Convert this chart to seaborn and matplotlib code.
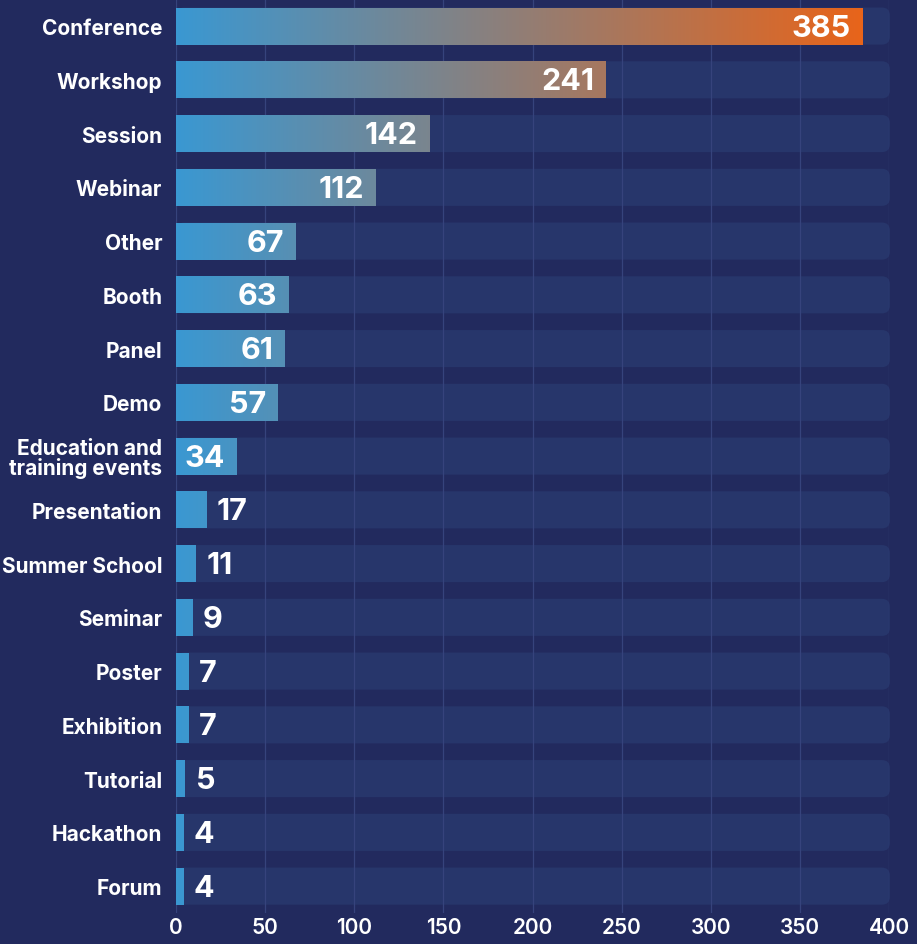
import numpy as np
import pandas as pd
import matplotlib
matplotlib.use("Agg")
import matplotlib.pyplot as plt
import seaborn as sns
from matplotlib.colors import LinearSegmentedColormap
from matplotlib.patches import FancyBboxPatch

# Event types and how many of each were recorded
categories = [
    "Conference", "Workshop", "Session", "Webinar", "Other", "Booth", "Panel",
    "Demo", "Education and\ntraining events", "Presentation", "Summer School",
    "Seminar", "Poster", "Exhibition", "Tutorial", "Hackathon", "Forum",
]
counts = [385, 241, 142, 112, 67, 63, 61, 57, 34, 17, 11, 9, 7, 7, 5, 4, 4]
x_ticks = [0, 50, 100, 150, 200, 250, 300, 350, 400]

BG = "#222a5e"
TRACK = "#27366b"
GRID = "#36437c"
START = "#3a98d2"
END = "#e8641a"

sns.set_theme(style="white")
plt.rcParams["font.family"] = ["Inter", "DejaVu Sans"]

fig = plt.figure(figsize=(9.17, 9.45), dpi=100, facecolor=BG)
ax = fig.add_axes([0.192, 0.0328, 0.7775, 0.967])
ax.set_facecolor(BG)

df = pd.DataFrame({"category": categories, "count": counts})
xmax = x_ticks[-1]
bar_h = 0.69

# Rounded background tracks spanning the full scale
for i in range(len(categories)):
    track = FancyBboxPatch(
        (0, i - bar_h / 2), xmax + 0.5, bar_h,
        boxstyle="round,pad=0,rounding_size=4.5",
        mutation_aspect=0.0331,
        facecolor=TRACK, edgecolor="none", zorder=1, clip_on=False,
    )
    ax.add_patch(track)

sns.barplot(data=df, x="count", y="category", orient="h", width=bar_h,
            color=START, ax=ax, zorder=3, linewidth=0)

# Horizontal colour ramp shared by all bars, clipped to each bar
cmap = LinearSegmentedColormap.from_list("ramp", [START, END])
grad = np.linspace(0, 1, 512)[None, :]
vmax = max(counts)
for bar in ax.containers[0]:
    bar.set_facecolor("none")
    y0 = bar.get_y()
    h = bar.get_height()
    im = ax.imshow(grad, cmap=cmap, extent=(0, vmax, y0 + h, y0),
                   aspect="auto", zorder=3, interpolation="bilinear")
    im.set_clip_path(bar)

# Value labels: inside long bars, just past short ones
for i, v in enumerate(counts):
    if v >= 30:
        ax.text(v - 6.5, i + 0.03, f"{v}", ha="right", va="center",
                color="white", fontsize=22, fontweight="bold", zorder=5)
    else:
        ax.text(v + 6, i + 0.03, f"{v}", ha="left", va="center",
                color="white", fontsize=22, fontweight="bold", zorder=5)

ax.set_xlim(0, xmax)
ax.set_ylim(len(categories) - 0.5, -0.5)
ax.set_xticks(x_ticks)
ax.set_xticklabels([str(t) for t in x_ticks])
ax.set_axisbelow("line")
ax.grid(axis="x", color=GRID, linewidth=0.9)
ax.grid(axis="y", visible=False)
for s in ax.spines.values():
    s.set_visible(False)
ax.set_xlabel("")
ax.set_ylabel("")
ax.tick_params(axis="both", length=0, colors="white", labelsize=15)
ax.tick_params(axis="y", pad=10)
ax.tick_params(axis="x", pad=3)
for lab in ax.get_yticklabels():
    lab.set_fontweight("bold")
    lab.set_linespacing(0.95)
for lab in ax.get_xticklabels():
    lab.set_fontweight("semibold")

fig.savefig("out.png", dpi=100, facecolor=BG)
